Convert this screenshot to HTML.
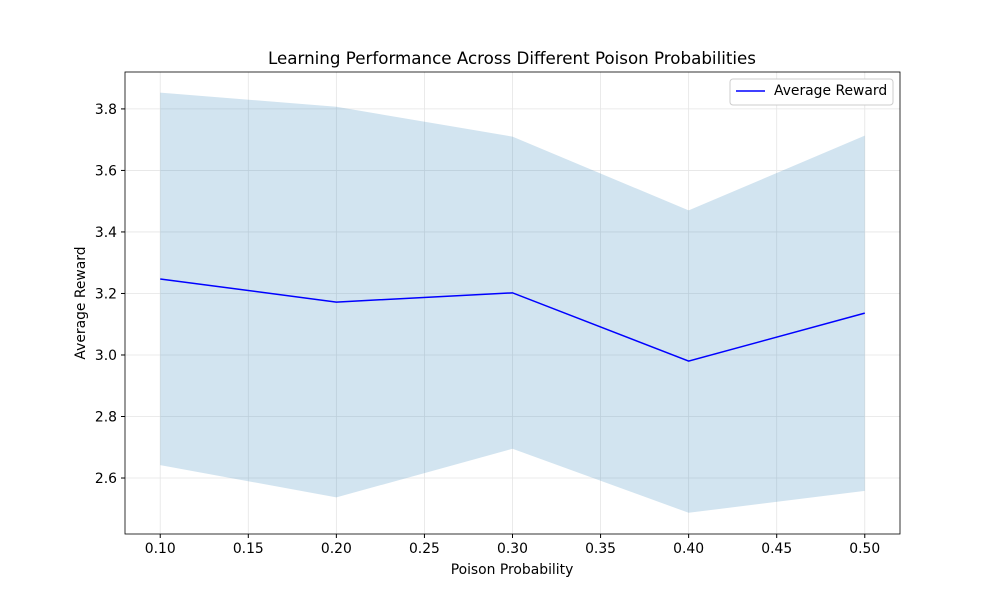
<!DOCTYPE html>
<html><head><meta charset="utf-8"><style>
body{margin:0;background:#fff;}
svg{display:block;font-family:"DejaVu Sans","Liberation Sans",sans-serif;}
</style></head><body>
<svg id="chart" width="1000" height="600">
<rect width="1000" height="600" fill="#fff"/>
<g id="grid"></g>
<g id="plot"></g>
<g id="axes"></g>
<text x="512" y="64" text-anchor="middle" font-size="16.7">Learning Performance Across Different Poison Probabilities</text>
<text x="512" y="574" text-anchor="middle" font-size="13.9">Poison Probability</text>
<text transform="translate(85,303) rotate(-90)" text-anchor="middle" font-size="13.9">Average Reward</text>
<g>
<rect x="730" y="79" width="163" height="26" fill="#fff" stroke="#ccc" rx="3"/>
<line x1="736" y1="91" x2="765" y2="91" stroke="#0000ff" stroke-width="1.5"/>
<text x="774" y="95" font-size="13.9">Average Reward</text>
</g>
</svg>
<script>
const xs=[0.1,0.2,0.3,0.4,0.5];
const meanR=[3.247,3.172,3.202,2.980,3.136];
const upperR=[3.853,3.807,3.710,3.470,3.713];
const lowerR=[2.642,2.537,2.695,2.487,2.558];
const xTicks=[0.10,0.15,0.20,0.25,0.30,0.35,0.40,0.45,0.50];
const yTicks=[2.6,2.8,3.0,3.2,3.4,3.6,3.8];
const L=125,R=900,T=72,B=534,x0=0.08,x1=0.52,y0=2.418,y1=3.92;
const X=v=>L+(v-x0)/(x1-x0)*(R-L);
const Y=v=>B-(v-y0)/(y1-y0)*(B-T);
const NS="http://www.w3.org/2000/svg";
function mk(p,t,a){const e=document.createElementNS(NS,t);for(const k in a)e.setAttribute(k,a[k]);p.appendChild(e);return e;}
const grid=document.getElementById('grid'),plot=document.getElementById('plot'),axes=document.getElementById('axes');
xTicks.forEach(t=>{
 const g=mk(grid,'line',{x1:X(t),x2:X(t),y1:T,y2:B,stroke:'#e5e5e5','stroke-width':0.8});
 
 
 mk(axes,'line',{x1:X(t),x2:X(t),y1:B,y2:B+4,stroke:'#000'});
 const tx=mk(axes,'text',{x:X(t),y:B+19,'text-anchor':'middle','font-size':13.9});
 tx.textContent=t.toFixed(2);
 
 
});
yTicks.forEach(t=>{
 const g=mk(grid,'line',{x1:L,x2:R,y1:Y(t),y2:Y(t),stroke:'#e5e5e5','stroke-width':0.8});
 
 
 mk(axes,'line',{x1:L-4,x2:L,y1:Y(t),y2:Y(t),stroke:'#000'});
 const tx=mk(axes,'text',{x:L-8,y:Y(t)+5,'text-anchor':'end','font-size':13.9});
 tx.textContent=t.toFixed(1);
 
 
});
let d=xs.map((v,i)=>(i?'L':'M')+X(v)+','+Y(upperR[i])).join('');
for(let i=xs.length-1;i>=0;i--)d+='L'+X(xs[i])+','+Y(lowerR[i]);
const band=mk(plot,'path',{d:d+'Z',fill:'#1f77b4','fill-opacity':0.2});


const line=mk(plot,'polyline',{points:xs.map((v,i)=>X(v)+','+Y(meanR[i])).join(' '),fill:'none',stroke:'#0000ff','stroke-width':1.5});


const fr=mk(axes,'rect',{x:L,y:T,width:R-L,height:B-T,fill:'none',stroke:'#000','stroke-width':0.8});


</script>
</body></html>
